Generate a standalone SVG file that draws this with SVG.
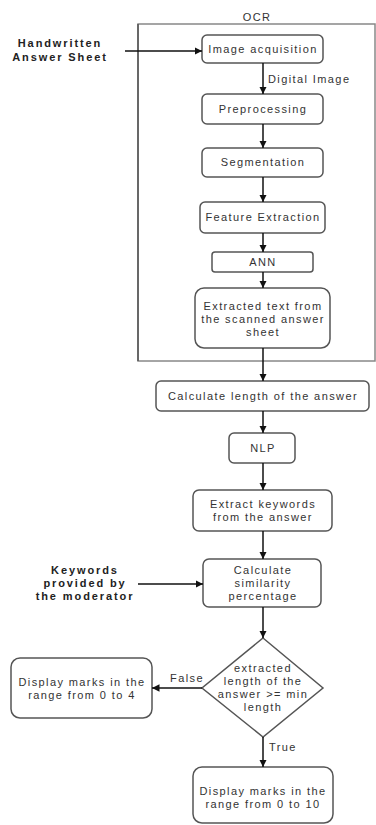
<svg xmlns="http://www.w3.org/2000/svg" width="376" height="825" viewBox="0 0 376 825">
<style>
text{font-family:"Liberation Sans",Arial,sans-serif;font-size:11px;fill:#333;letter-spacing:1.4px;text-anchor:middle}
.b{font-weight:bold;fill:#222;letter-spacing:1.9px}
.box{fill:#fff;stroke:#555;stroke-width:1.5}
.frame{fill:none;stroke:#888;stroke-width:1.5}
.c{stroke:#111;stroke-width:1.5;fill:none;marker-end:url(#ah)}
.l{text-anchor:start}
</style>
<defs>
<marker id="ah" viewBox="0 0 10 10" refX="10" refY="5" markerWidth="5" markerHeight="5" orient="auto" markerUnits="strokeWidth">
<path d="M0,0 L10,5 L0,10 z" fill="#111"/>
</marker>
</defs>
<rect width="376" height="825" fill="#fff"/>
<g id="ocr">
<rect class="frame" x="138" y="24" width="237" height="337"/>
<line x1="138" y1="24" x2="138" y2="361" stroke="#555" stroke-width="1.5"/>
<text x="257" y="21">OCR</text>
</g>
<g id="handwritten"><text class="b" x="60" y="47">Handwritten</text><text class="b" x="60" y="61">Answer Sheet</text></g>
<g id="img"><rect class="box" x="202" y="35" width="121" height="28" rx="5"/><text x="263" y="53">Image acquisition</text></g>
<g id="pre"><rect class="box" x="202" y="94" width="121" height="30" rx="5"/><text x="263" y="113">Preprocessing</text></g>
<g id="seg"><rect class="box" x="202" y="148" width="121" height="29" rx="5"/><text x="263" y="166">Segmentation</text></g>
<g id="feat"><rect class="box" x="200" y="202" width="125" height="31" rx="5"/><text x="263" y="221">Feature Extraction</text></g>
<g id="ann"><rect class="box" x="212" y="252" width="101" height="20" rx="3"/><text x="263" y="266">ANN</text></g>
<g id="ext"><rect class="box" x="195" y="288" width="135" height="60" rx="9"/><text x="263" y="310">Extracted text from</text><text x="263" y="323">the scanned answer</text><text x="263" y="336">sheet</text></g>
<g id="len"><rect class="box" x="156" y="381" width="213" height="30" rx="5"/><text x="263" y="400">Calculate length of the answer</text></g>
<g id="nlp"><rect class="box" x="229" y="433" width="66" height="30" rx="5"/><text x="263" y="452">NLP</text></g>
<g id="kw"><rect class="box" x="193" y="490" width="139" height="41" rx="6"/><text x="263" y="508">Extract keywords</text><text x="263" y="521">from the answer</text></g>
<g id="sim"><rect class="box" x="203" y="559" width="118" height="48" rx="6"/><text x="263" y="574">Calculate</text><text x="263" y="587">similarity</text><text x="263" y="600">percentage</text></g>
<g id="moderator"><text class="b" x="85" y="574">Keywords</text><text class="b" x="85" y="587">provided by</text><text class="b" x="85" y="600">the moderator</text></g>
<g id="decision"><path class="box" d="M263,638 L323,688 L263,737 L202,688 Z"/><text x="263" y="672">extracted</text><text x="263" y="685">length of the</text><text x="263" y="698">answer &gt;= min</text><text x="263" y="711">length</text></g>
<g id="low"><rect class="box" x="11" y="658" width="141" height="60" rx="9"/><text x="82" y="686">Display marks in the</text><text x="82" y="699">range from 0 to 4</text></g>
<g id="high"><rect class="box" x="193" y="767" width="140" height="56" rx="9"/><text x="263" y="795">Display marks in the</text><text x="263" y="808">range from 0 to 10</text></g>
<g id="connectors">
<line class="c" x1="125" y1="51" x2="202" y2="51"/>
<line class="c" x1="263" y1="63" x2="263" y2="94"/>
<text class="l" x="268" y="83">Digital Image</text>
<line class="c" x1="263" y1="124" x2="263" y2="148"/>
<line class="c" x1="263" y1="177" x2="263" y2="202"/>
<line class="c" x1="263" y1="233" x2="263" y2="252"/>
<line class="c" x1="263" y1="272" x2="263" y2="288"/>
<line class="c" x1="263" y1="348" x2="263" y2="381"/>
<line class="c" x1="263" y1="411" x2="263" y2="433"/>
<line class="c" x1="263" y1="463" x2="263" y2="490"/>
<line class="c" x1="263" y1="531" x2="263" y2="559"/>
<line class="c" x1="138" y1="584" x2="203" y2="584"/>
<line class="c" x1="263" y1="607" x2="263" y2="638"/>
<line class="c" x1="202" y1="688" x2="152" y2="688"/>
<text x="187" y="682">False</text>
<line class="c" x1="263" y1="737" x2="263" y2="767"/>
<text class="l" x="269" y="751">True</text>
</g>
</svg>
